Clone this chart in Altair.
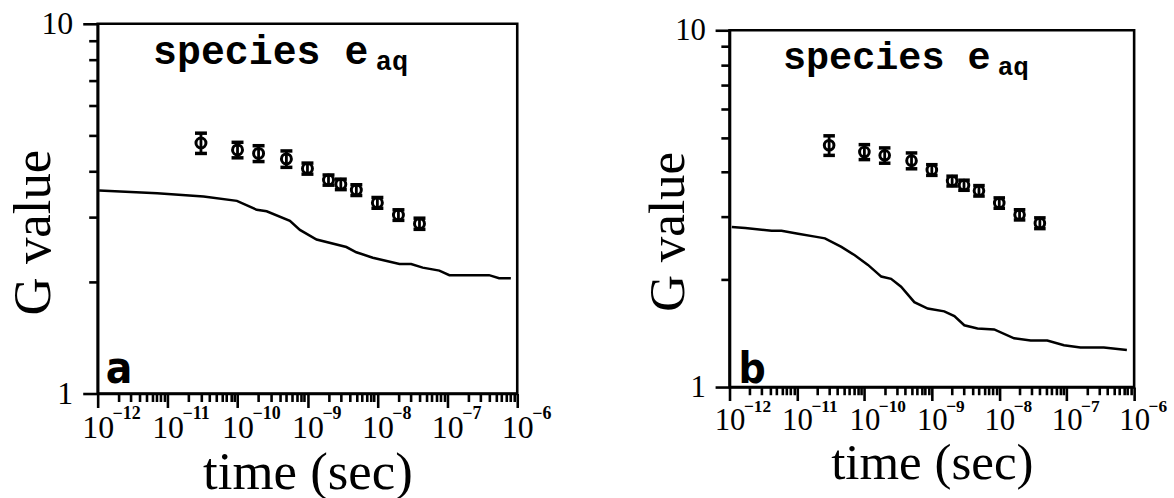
import altair as alt
import pandas as pd

# Measured G values of the hydrated electron (shown in both panels)
obs_time = [3e-11, 1e-10, 2e-10, 5e-10, 1e-9, 2e-9, 3e-9, 5e-9, 1e-8, 2e-8, 4e-8]
obs_g = [4.76, 4.56, 4.46, 4.31, 4.06, 3.78, 3.68, 3.55, 3.28, 3.04, 2.88]
obs_err = [0.30, 0.22, 0.22, 0.22, 0.14, 0.12, 0.12, 0.12, 0.11, 0.10, 0.10]

# Simulated decay, panel a
sim_a_time = [1.05e-12, 7.1e-12, 3.27e-11, 9.8e-11, 1.88e-10, 2.61e-10, 5.61e-10,
              7.8e-10, 1.35e-9, 3.6e-9, 5.0e-9, 8.6e-9, 2.07e-8, 3.04e-8, 4.45e-8,
              7.7e-8, 1.07e-7, 3.96e-7, 5.5e-7, 8.1e-7]
sim_a_g = [3.54, 3.48, 3.41, 3.32, 3.14, 3.11, 2.93, 2.77, 2.61, 2.49, 2.41, 2.33,
           2.24, 2.24, 2.19, 2.15, 2.09, 2.09, 2.05, 2.05]

# Simulated decay, panel b
sim_b_time = [1.08e-12, 1.71e-12, 4.2e-12, 5.9e-12, 1.04e-11, 1.85e-11, 2.6e-11,
              4.56e-11, 7.2e-11, 1.13e-10, 1.78e-10, 2.49e-10, 3.5e-10, 5.5e-10,
              8.7e-10, 1.53e-9, 2.16e-9, 3.03e-9, 4.76e-9, 8.4e-9, 1.66e-8, 2.92e-8,
              5.15e-8, 9.1e-8, 1.6e-7, 3.55e-7, 7.8e-7]
sim_b_g = [2.81, 2.79, 2.74, 2.74, 2.69, 2.64, 2.61, 2.47, 2.34, 2.20, 2.04, 2.01,
           1.91, 1.73, 1.66, 1.63, 1.58, 1.49, 1.46, 1.45, 1.37, 1.35, 1.35, 1.31,
           1.29, 1.29, 1.27]

# Axis decades and their exponent labels
decades = [-12, -11, -10, -9, -8, -7, -6]
x_ticks = [m * 10.0 ** e for e in decades[:-1] for m in range(1, 10)] + [1e-6]
y_ticks = list(range(1, 11))

# Annotation anchors (data coordinates)
species_anchor = (6.2e-12, 7.8)
subscript_anchor = (9.5e-9, 7.5)

SERIF = "Liberation Serif"
TAG_FONT = "Liberation Sans Narrow, DejaVu Sans Condensed, Roboto Condensed, Roboto"
MAJOR = "abs(log(datum.value)/LN10 - round(log(datum.value)/LN10)) < 0.001"


def panel(curve_t, curve_g, letter, letter_anchor, w, h, k):
    xs = alt.Scale(type="log", domain=[1e-12, 1e-6], nice=False)
    ys = alt.Scale(type="log", domain=[1, 10], nice=False)
    x_axis = alt.Axis(
        values=x_ticks,
        labelExpr=f"{MAJOR} ? '10' : ''",
        tickSize={"condition": {"test": MAJOR, "value": 14 * k}, "value": 8 * k},
        tickWidth=2.6, domainWidth=2.6, grid=False,
        labelFont=SERIF, labelFontSize=32 * k, labelPadding=5 * k,
        labelFlush=False, labelOverlap=False, labelBound=False,
        title="time (sec)", titleFont=SERIF, titleFontSize=53 * k,
        titleFontWeight="normal", titleY=95 * k, titleBaseline="alphabetic",
    )
    y_axis = alt.Axis(
        values=y_ticks,
        labelExpr="datum.value == 1 ? '1' : datum.value == 10 ? '10' : ''",
        tickSize={"condition": {"test": MAJOR, "value": 15 * k}, "value": 9 * k},
        tickWidth=2.6, domainWidth=2.6, grid=False,
        labelFont=SERIF, labelFontSize=32 * k, labelPadding=10 * k,
        labelFlush=False, labelOverlap=False, labelBound=False,
        title="G value", titleFont=SERIF, titleFontSize=53 * k,
        titleFontWeight="normal", titleAngle=270, titleAlign="center",
        titleBaseline="alphabetic", titleX=-48 * k, titleY=209 * k,
    )
    X = alt.X("t:Q", scale=xs, axis=x_axis)
    Y = alt.Y("g:Q", scale=ys, axis=y_axis)

    curve = pd.DataFrame({"t": curve_t, "g": curve_g})
    obs = pd.DataFrame({
        "t": obs_time, "g": obs_g,
        "lo": [g - e for g, e in zip(obs_g, obs_err)],
        "hi": [g + e for g, e in zip(obs_g, obs_err)],
    })

    line = alt.Chart(curve).mark_line(color="black", strokeWidth=2.5).encode(x=X, y=Y)
    bars = alt.Chart(obs).mark_rule(color="black", strokeWidth=2.8).encode(
        x=X, y=alt.Y("lo:Q", scale=ys), y2="hi:Q")
    cap_lo = alt.Chart(obs).mark_tick(
        color="black", orient="horizontal", size=12 * k, thickness=3.5, opacity=1
    ).encode(x=X, y=alt.Y("lo:Q", scale=ys))
    cap_hi = alt.Chart(obs).mark_tick(
        color="black", orient="horizontal", size=12 * k, thickness=3.5, opacity=1
    ).encode(x=X, y=alt.Y("hi:Q", scale=ys))
    pts = alt.Chart(obs).mark_point(
        shape="circle", filled=False, color="black", size=(10 * k) ** 2,
        strokeWidth=3, opacity=1
    ).encode(x=X, y=Y)

    species = alt.Chart(pd.DataFrame({
        "t": [species_anchor[0]], "g": [species_anchor[1]], "s": ["species e"]
    })).mark_text(
        font="Liberation Mono", fontSize=40 * k, fontWeight="bold", align="left",
        baseline="alphabetic", color="black"
    ).encode(x=X, y=Y, text="s:N")
    sub = alt.Chart(pd.DataFrame({
        "t": [subscript_anchor[0]], "g": [subscript_anchor[1]], "s": ["aq"]
    })).mark_text(
        font="Liberation Mono", fontSize=27 * k, fontWeight="bold", align="left",
        baseline="alphabetic", color="black"
    ).encode(x=X, y=Y, text="s:N")
    tag = alt.Chart(pd.DataFrame({
        "t": [letter_anchor[0]], "g": [letter_anchor[1]], "s": [letter]
    })).mark_text(
        font=TAG_FONT, fontSize=44 * k, fontWeight=900,
        align="left", baseline="alphabetic", color="black"
    ).encode(x=X, y=Y, text="s:N")

    expo = alt.Chart(pd.DataFrame({
        "t": [10.0 ** e for e in decades],
        "s": ["\u2212" + str(-e) for e in decades],
    })).mark_text(
        font=SERIF, fontSize=18 * k, fontWeight="bold", align="left",
        baseline="alphabetic", color="black", dx=15 * k
    ).encode(x=X, y=alt.value(h + 26 * k), text="s:N")

    return alt.layer(line, bars, cap_lo, cap_hi, pts, species, sub, tag, expo).properties(
        width=w, height=h)


left = panel(sim_a_time, sim_a_g, "a", (1.3e-12, 1.07), 421, 371, 1.0)
right = panel(sim_b_time, sim_b_g, "b", (1.36e-12, 1.026), 406, 358, 0.965)

chart = alt.hconcat(
    left, right, spacing=213, bounds="flush", center=True
).properties(
    padding={"left": 6, "top": 5, "right": 5, "bottom": 5},
    background="white",
).configure_view(
    stroke="black", strokeWidth=2.6
).configure_axis(
    domainColor="black", tickColor="black", labelColor="black", titleColor="black"
)

chart.save("out.html", embed_options={"renderer": "svg", "actions": False})
